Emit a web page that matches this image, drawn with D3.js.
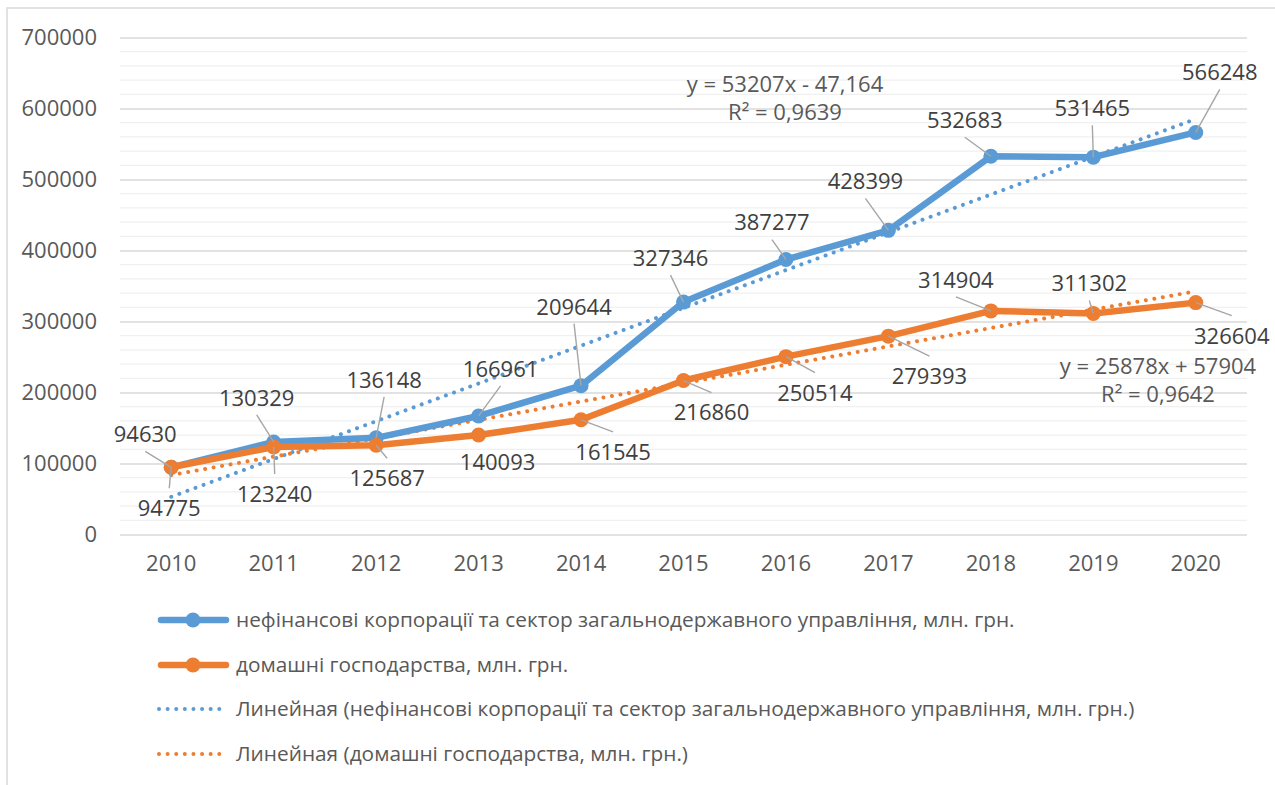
<!DOCTYPE html>
<html>
<head>
<meta charset="utf-8">
<script src="https://cdn.jsdelivr.net/npm/d3@7"></script>
<style>
  html, body { margin: 0; padding: 0; background: #fff; }
  svg { display: block; font-family: "Open Sans", "Noto Sans", sans-serif; }
</style>
</head>
<body>
<div id="chart"></div>
<script>
// values
const years = ["2010", "2011", "2012", "2013", "2014", "2015", "2016", "2017", "2018", "2019", "2020"];
const corpValues = [94630, 130329, 136148, 166961, 209644, 327346, 387277, 428399, 532683, 531465, 566248];
const houseValues = [94775, 123240, 125687, 140093, 161545, 216860, 250514, 279393, 314904, 311302, 326604];
const yTicks = [0, 100000, 200000, 300000, 400000, 500000, 600000, 700000];
const seriesNames = [
  "нефінансові корпорації та сектор загальнодержавного управління, млн. грн.",
  "домашні господарства, млн. грн."
];
const trendNames = seriesNames.map((n) => "Линейная (" + n + ")");
const corpTrendText = ["y = 53207x - 47,164", "R² = 0,9639"];
const houseTrendText = ["y = 25878x + 57904", "R² = 0,9642"];

// label placement relative to the point (px): [dx, dy, leader?]
const corpLabelPos = [[-26, -33, 1], [-17, -44, 1], [8, -58, 1], [22, -47, 1], [-7, -79, 1], [-13, -44, 1],
  [-14, -37, 1], [-23, -49, 1], [-26, -36, 1], [-1, -49, 1], [24, -60, 1]];
const houseLabelPos = [[-2, 41, 1], [1, 47, 1], [11, 33, 1], [19, 27, 0], [32, 32, 1], [28, 32, 1],
  [29, 36, 1], [41, 40, 1], [-35, -31, 1], [-4, -30, 1], [36, 33, 1]];

const W = 1275, H = 785;
const blue = "#5B9BD5", orange = "#ED7D31", textCol = "#595959";
const numSize = "22px", legendSize = "20.8px";

const svg = d3.select("#chart").append("svg").attr("width", W).attr("height", H);

// chart frame (only top/left edge falls inside the picture)
svg.append("rect").attr("x", 7).attr("y", 8).attr("width", W + 20).attr("height", H + 20)
  .attr("fill", "#fff").attr("stroke", "#D9D9D9").attr("stroke-width", 1.5);

const x = d3.scaleBand().domain(years).range([120, 1247]);
const cx = (yr) => x(yr) + x.bandwidth() / 2;
const y = d3.scaleLinear().domain([0, 700000]).range([534.5, 37.5]);

// minor grid every 20000
const minor = d3.range(20000, 700000, 20000).filter((v) => v % 100000 !== 0);
svg.append("g").selectAll("line").data(minor).join("line")
  .attr("x1", 120).attr("x2", 1247).attr("y1", (d) => y(d)).attr("y2", (d) => y(d))
  .attr("stroke", "#F0F0F0").attr("stroke-width", 1.3);

// major grid + y axis
const yAxis = svg.append("g").attr("transform", "translate(120,0)")
  .call(d3.axisLeft(y).tickValues(yTicks).tickSize(-1127).tickPadding(23).tickFormat(d3.format("d")));
yAxis.select(".domain").remove();
yAxis.selectAll(".tick line").attr("stroke", "#D9D9D9").attr("stroke-width", 1.4);
yAxis.selectAll(".tick text").attr("fill", textCol).style("font-size", numSize).style("font-family", "Open Sans");

// x axis labels
const xAxis = svg.append("g").attr("transform", "translate(0,534.5)")
  .call(d3.axisBottom(x).tickSize(0).tickPadding(21));
xAxis.select(".domain").remove();
xAxis.selectAll(".tick text").attr("fill", textCol).style("font-size", numSize).style("font-family", "Open Sans");

// least squares trend over x = 1..n, as the spreadsheet does
function fit(vals) {
  const xs = vals.map((_, i) => i + 1);
  const mx = d3.mean(xs), my = d3.mean(vals);
  const slope = d3.sum(xs, (v, i) => (v - mx) * (vals[i] - my)) / d3.sum(xs, (v) => (v - mx) ** 2);
  return (k) => my + slope * (k - mx);
}

const series = [
  { values: corpValues, color: blue, pos: corpLabelPos },
  { values: houseValues, color: orange, pos: houseLabelPos }
];

const line = d3.line().x((d) => cx(d.year)).y((d) => y(d.value));

// trend lines first
series.forEach((s) => {
  const f = fit(s.values);
  svg.append("line")
    .attr("x1", cx(years[0])).attr("y1", y(f(1)))
    .attr("x2", cx(years[years.length - 1])).attr("y2", y(f(years.length)))
    .attr("stroke", s.color).attr("stroke-width", 4)
    .attr("stroke-dasharray", "0.01 8.6").attr("stroke-linecap", "round");
});

// series lines and markers
series.forEach((s) => {
  const pts = years.map((yr, i) => ({ year: yr, value: s.values[i] }));
  svg.append("path").datum(pts).attr("d", line)
    .attr("fill", "none").attr("stroke", s.color).attr("stroke-width", 6.5).attr("stroke-linejoin", "round");
  svg.append("g").selectAll("circle").data(pts).join("circle")
    .attr("cx", (d) => cx(d.year)).attr("cy", (d) => y(d.value)).attr("r", 7.5)
    .attr("fill", s.color);
});

// data labels with leader lines
series.forEach((s) => {
  const g = svg.append("g");
  years.forEach((yr, i) => {
    const px = cx(yr), py = y(s.values[i]);
    const [dx, dy, lead] = s.pos[i];
    const lx = px + dx, ly = py + dy;
    if (lead) {
      const sy = dy < 0 ? ly + 17 : ly - 20;
      g.append("line").attr("x1", lx).attr("y1", sy).attr("x2", px).attr("y2", py)
        .attr("stroke", "#A6A6A6").attr("stroke-width", 1.4);
    }
    g.append("text").attr("x", lx).attr("y", ly).attr("dy", "0.36em")
      .attr("text-anchor", "middle").attr("fill", "#404040").style("font-size", numSize)
      .text(s.values[i]);
  });
});

// trend equations
[[corpTrendText, 785, 84], [houseTrendText, 1158, 366]].forEach(([lines, tx, ty]) => {
  lines.forEach((t, j) => {
    svg.append("text").attr("x", tx).attr("y", ty + j * 28).attr("dy", "0.36em")
      .attr("text-anchor", "middle").attr("fill", textCol).style("font-size", numSize).text(t);
  });
});

// legend
const legendY = [620, 665, 709, 754];
const legend = svg.append("g");
[0, 1].forEach((i) => {
  const c = i === 0 ? blue : orange;
  legend.append("line").attr("x1", 161).attr("x2", 226).attr("y1", legendY[i]).attr("y2", legendY[i])
    .attr("stroke", c).attr("stroke-width", 6.5).attr("stroke-linecap", "round");
  legend.append("circle").attr("cx", 193).attr("cy", legendY[i]).attr("r", 7.5).attr("fill", c);
  legend.append("text").attr("x", 236).attr("y", legendY[i]).attr("dy", "0.36em")
    .attr("fill", textCol).style("font-size", legendSize).text(seriesNames[i]);
});
[0, 1].forEach((i) => {
  const c = i === 0 ? blue : orange;
  legend.append("line").attr("x1", 159).attr("x2", 221).attr("y1", legendY[i + 2]).attr("y2", legendY[i + 2])
    .attr("stroke", c).attr("stroke-width", 4).attr("stroke-dasharray", "0.01 8.6").attr("stroke-linecap", "round");
  legend.append("text").attr("x", 236).attr("y", legendY[i + 2]).attr("dy", "0.36em")
    .attr("fill", textCol).style("font-size", legendSize).text(trendNames[i]);
});
</script>
</body>
</html>
